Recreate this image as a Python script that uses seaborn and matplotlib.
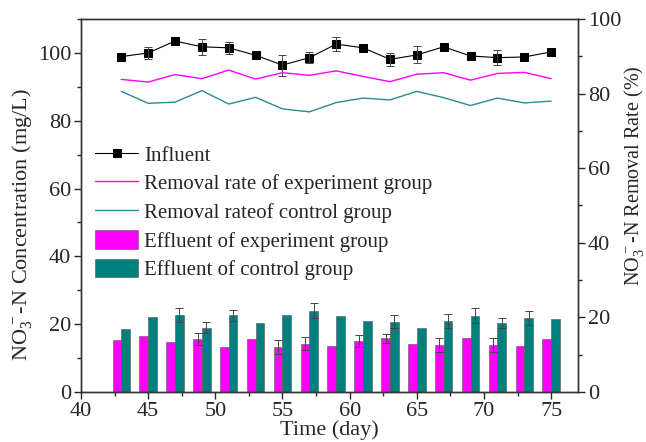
import numpy as np
import pandas as pd
import matplotlib
matplotlib.use("Agg")
import matplotlib.pyplot as plt
from matplotlib.ticker import MultipleLocator
import seaborn as sns

days = [43, 45, 47, 49, 51, 53, 55, 57, 59, 61, 63, 65, 67, 69, 71, 73, 75]
influent = [98.9, 100.0, 103.5, 101.8, 101.5, 99.3, 96.4, 98.6, 102.6, 101.5, 98.1, 99.4, 101.8, 99.1, 98.6, 98.8, 100.3]
influent_err = [0, 1.8, 0, 2.3, 1.8, 0, 3.1, 1.6, 2.0, 0, 2.0, 2.5, 0, 0, 2.3, 0, 0]
rate_exp = [83.8, 83.1, 85.1, 84.0, 86.3, 83.9, 85.6, 84.9, 86.1, 84.6, 83.2, 85.2, 85.6, 83.6, 85.4, 85.7, 84.0]
rate_ctrl = [80.6, 77.4, 77.7, 80.8, 77.2, 79.0, 75.9, 75.1, 77.6, 78.8, 78.3, 80.6, 78.9, 76.8, 78.8, 77.5, 78.0]
eff_exp = [15.4, 16.4, 14.8, 15.6, 13.3, 15.5, 13.2, 14.2, 13.6, 15.1, 15.8, 14.2, 13.9, 15.8, 13.9, 13.5, 15.7]
eff_exp_err = [0, 0, 0, 1.8, 0, 0, 2.0, 1.9, 0, 1.8, 1.3, 0, 2.0, 0, 2.0, 0, 0]
eff_ctrl = [18.6, 22.2, 22.6, 19.0, 22.6, 20.3, 22.7, 24.0, 22.5, 20.9, 20.7, 18.8, 21.0, 22.5, 20.4, 21.8, 21.6]
eff_ctrl_err = [0, 0, 2.1, 1.6, 1.6, 0, 0, 2.2, 0, 0, 1.9, 0, 2.0, 2.2, 1.5, 2.0, 0]

lab_inf = "Influent"
lab_rexp = "Removal rate of experiment group"
lab_rctrl = "Removal rateof control group"
lab_eexp = "Effluent of experiment group"
lab_ectrl = "Effluent of control group"

sns.set_style("ticks")
plt.rcParams['font.family'] = ['Liberation Serif', 'DejaVu Serif']
plt.rcParams['mathtext.fontset'] = 'custom'
plt.rcParams['mathtext.rm'] = 'Liberation Serif'
plt.rcParams['mathtext.it'] = 'Liberation Serif:italic'

PINK = "#ff00ff"
TEAL = "#007f7f"
TEAL_LINE = "#2a8c8c"
FS = 16

fig = plt.figure(figsize=(6.46, 4.42), dpi=100)
ax = fig.add_axes([81/646, 1-392/442, 497/646, 373/442])

bars = pd.DataFrame({
    "day": days * 2,
    "value": eff_exp + eff_ctrl,
    "group": [lab_eexp] * len(days) + [lab_ectrl] * len(days),
})
sns.barplot(data=bars, x="day", y="value", hue="group", native_scale=True,
            palette=[PINK, TEAL], saturation=1, width=0.65, errorbar=None, ax=ax,
            edgecolor="#555555", linewidth=0.4, legend=True)

d = np.array(days, dtype=float)
off = 0.65 * 2 / 4
for xs, ys, es in [(d - off, eff_exp, eff_exp_err), (d + off, eff_ctrl, eff_ctrl_err)]:
    m = np.array(es) > 0
    ax.errorbar(xs[m], np.array(ys)[m], yerr=np.array(es)[m], fmt="none",
                ecolor="#444444", elinewidth=0.7, capsize=3, capthick=0.7)

sns.lineplot(x=days, y=influent, color="black", marker="s", markersize=6,
             markeredgecolor="black", linewidth=0.8, ax=ax, label=lab_inf)
m = np.array(influent_err) > 0
ax.errorbar(d[m], np.array(influent)[m], yerr=np.array(influent_err)[m], fmt="none",
            ecolor="#444444", elinewidth=0.7, capsize=3, capthick=0.7)

ax.set_xlim(40, 77)
ax.set_ylim(0, 110)
ax.xaxis.set_major_locator(MultipleLocator(5))
ax.xaxis.set_minor_locator(MultipleLocator(2.5))
ax.yaxis.set_major_locator(MultipleLocator(20))
ax.yaxis.set_minor_locator(MultipleLocator(10))
ax.set_xlabel("Time (day)", fontsize=FS, labelpad=0)
ax.set_ylabel("NO$_3^{\\,-}$-N Concentration (mg/L)", fontsize=FS)
ax.yaxis.set_label_coords(-0.095, 0.45)
ax.tick_params(axis="both", labelsize=FS, direction="out", length=5, width=1, pad=2)
ax.tick_params(which="minor", direction="out", length=3, width=1)

ax2 = ax.twinx()
sns.lineplot(x=days, y=rate_exp, color=PINK, linewidth=1.0, ax=ax2, label=lab_rexp)
sns.lineplot(x=days, y=rate_ctrl, color=TEAL_LINE, linewidth=1.0, ax=ax2, label=lab_rctrl)
ax2.set_ylim(0, 100)
ax2.yaxis.set_major_locator(MultipleLocator(20))
ax2.yaxis.set_minor_locator(MultipleLocator(10))
ax2.set_ylabel("NO$_3^{\\,-}$-N Removal Rate (%)", fontsize=14.5)
ax2.yaxis.set_label_coords(1.088, 0.58)
ax2.tick_params(axis="y", labelsize=FS, direction="out", length=5, width=1, pad=2)
ax2.tick_params(which="minor", direction="out", length=3, width=1)

for a in (ax, ax2):
    for s in a.spines.values():
        s.set_linewidth(1.0)
        s.set_color("#333333")

h1, l1 = ax.get_legend_handles_labels()
h2, l2 = ax2.get_legend_handles_labels()
ax.get_legend().remove()
ax2.get_legend().remove()
hd = dict(zip(l1 + l2, h1 + h2))
order = [lab_inf, lab_rexp, lab_rctrl, lab_eexp, lab_ectrl]
leg = ax2.legend([hd[k] for k in order], order, loc="upper left",
                 bbox_to_anchor=(0.012, 0.686), frameon=False, fontsize=15,
                 handlelength=2.05, handleheight=1.0, handletextpad=0.3,
                 labelspacing=0.34, borderaxespad=0.0)

fig.savefig("out.png", dpi=100)
